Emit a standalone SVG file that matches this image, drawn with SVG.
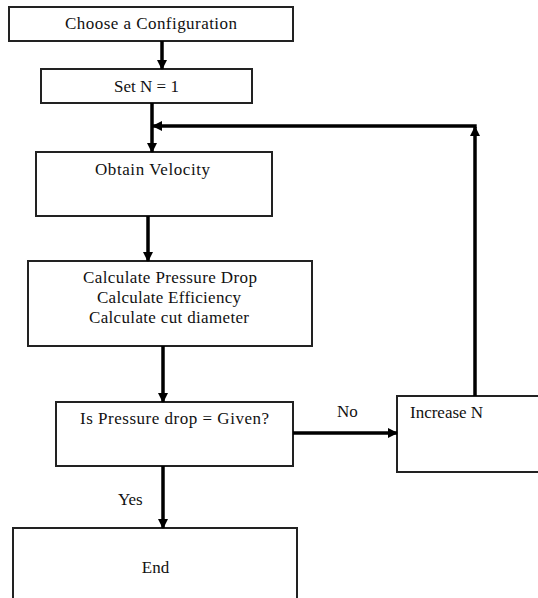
<svg xmlns="http://www.w3.org/2000/svg" width="538" height="598" viewBox="0 0 538 598">
<defs>
<style>
.box{fill:#fff;stroke:#222;stroke-width:2}
.t{font-family:"Liberation Serif","Times New Roman",serif;font-size:17px;fill:#111}
.c{text-anchor:middle}
.ln{fill:none;stroke:#000;stroke-width:3.5}
</style>
<marker id="ah" markerUnits="userSpaceOnUse" markerWidth="10" markerHeight="10" viewBox="0 0 10 10" refX="9" refY="5" orient="auto">
<path d="M0,0 L10,5 L0,10 Z" fill="#000"/>
</marker>
</defs>
<rect width="538" height="598" fill="#fff"/>
<g id="n1"><rect class="box" x="9" y="7" width="284" height="34"/><text class="t c" x="151" y="29" textLength="172">Choose a Configuration</text></g>
<g id="n2"><rect class="box" x="41" y="69" width="211" height="34"/><text class="t c" x="146.5" y="92">Set N = 1</text></g>
<g id="n3"><rect class="box" x="36" y="152" width="236" height="64"/><text class="t c" x="152.5" y="175" textLength="115">Obtain Velocity</text></g>
<g id="n4"><rect class="box" x="28" y="261" width="284" height="85"/>
<text class="t c" x="170" y="283" textLength="174">Calculate Pressure Drop</text>
<text class="t c" x="169" y="303" textLength="144">Calculate Efficiency</text>
<text class="t c" x="169" y="323" textLength="160">Calculate cut diameter</text></g>
<g id="n5"><rect class="box" x="56" y="402" width="237" height="64"/><text class="t c" x="174.5" y="424" textLength="189">Is Pressure drop = Given?</text></g>
<g id="n6"><rect class="box" x="397" y="396" width="156" height="76"/><text class="t" x="410" y="418">Increase N</text></g>
<g id="n7"><rect class="box" x="13" y="528" width="284" height="90"/><text class="t c" x="155.5" y="573">End</text></g>
<g id="connectors">
<path class="ln" d="M162,41 V69" marker-end="url(#ah)"/>
<path class="ln" d="M152,103 V152" marker-end="url(#ah)"/>
<path class="ln" d="M475,396 V127" marker-end="url(#ah)"/>
<path class="ln" d="M476.7,126 H153" marker-end="url(#ah)"/>
<path class="ln" d="M148,216 V261" marker-end="url(#ah)"/>
<path class="ln" d="M163,346 V402" marker-end="url(#ah)"/>
<path class="ln" d="M293,433 H397" marker-end="url(#ah)"/>
<path class="ln" d="M163,466 V528" marker-end="url(#ah)"/>
<text class="t" x="337" y="417">No</text>
<text class="t" x="118" y="505">Yes</text>
</g>
</svg>
